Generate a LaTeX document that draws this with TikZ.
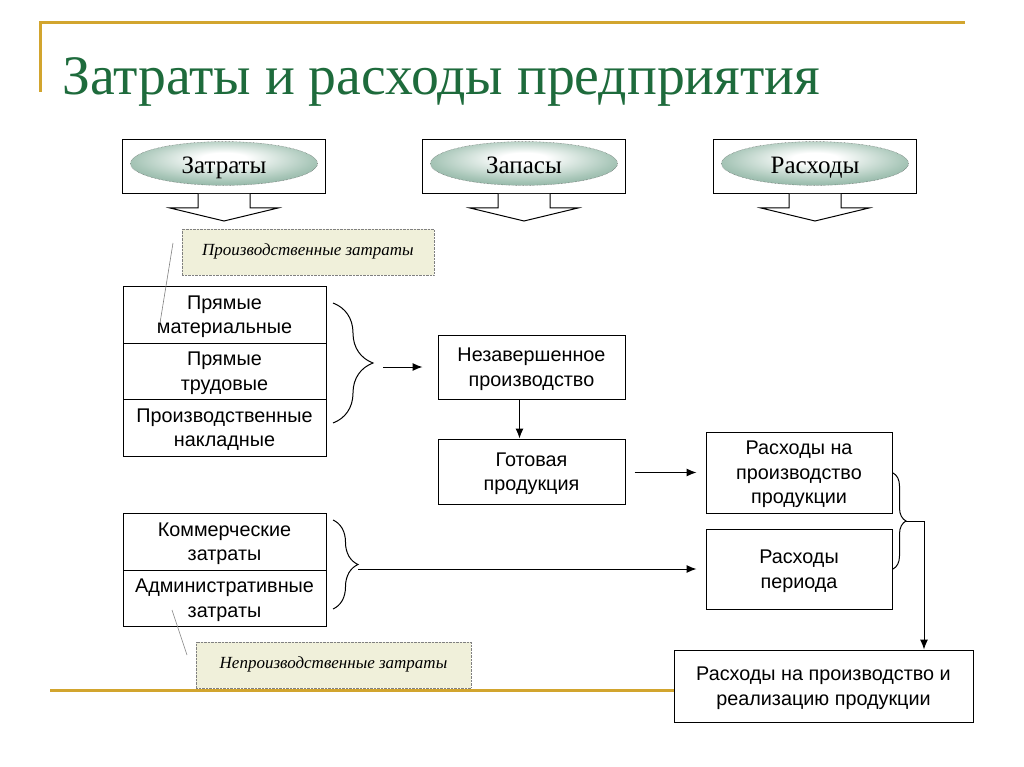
\documentclass[tikz,border=0pt]{standalone}
\usepackage{fontspec}
\setmainfont{Liberation Serif}
\setsansfont{Liberation Sans}
\usetikzlibrary{arrows.meta,decorations.pathreplacing,shapes.geometric}
\definecolor{Gold}{HTML}{D2A52E}
\definecolor{DarkGreen}{HTML}{1E6B3C}
\definecolor{SeaGreen}{HTML}{3B6E5D}
\definecolor{MidGreen}{HTML}{6A9785}
\definecolor{PaleGreen}{HTML}{A8C6B8}
\definecolor{NoteFill}{HTML}{F0F0DA}
\pgfdeclareradialshading{ovalshade}{\pgfpoint{0bp}{7bp}}{%
    color(0bp)=(white); color(6bp)=(white); color(24bp)=(PaleGreen);
    color(40bp)=(MidGreen); color(50bp)=(SeaGreen); color(60bp)=(SeaGreen)}

\begin{document}
\begin{tikzpicture}[x=1pt,y=-1pt,
    box/.style={draw,line width=1pt,fill=white,inner sep=0pt,align=center,
        font=\sffamily\fontsize{19.8}{24.5}\selectfont,text depth=-3.5pt},
    head/.style={draw,line width=1pt,fill=white,minimum width=203,minimum height=54,inner sep=0pt},
    oval/.style={ellipse,draw=black!70,densely dotted,shading=ovalshade,
        minimum width=187,minimum height=43,inner sep=0pt,text height=26,text depth=5},
    note/.style={draw=gray,densely dotted,fill=NoteFill,minimum height=46,inner sep=0pt,
        font=\itshape\fontsize{17}{20}\selectfont},
    arr/.style={-{Latex[length=10pt,width=8pt]},line width=1pt},
    lead/.style={gray,line width=0.6pt}]
    \useasboundingbox (0,0) rectangle (1024,767);
    % gold frame lines
    \draw[Gold,line width=3pt] (40,92) -- (40,23) -- (965,23);
    \draw[Gold,line width=3pt] (50,690) -- (973,690);
    \node[anchor=base west,text=DarkGreen,inner sep=0pt,font=\fontsize{55.7}{60}\selectfont]
        (title) at (62,95) {Затраты и расходы предприятия};
    % headers with block arrows
    \foreach \cx/\name/\txt in {224/zat/Затраты,524/zap/Запасы,815/ras/Расходы}{%
        \node[head] (\name) at (\cx,167) {};
        \node[oval,font=\fontsize{25}{28}\selectfont] (\name o) at (\cx,163.5) {\txt};
        \draw[line width=1pt,fill=white] (\cx-26,194) -- (\cx-26,208) -- (\cx-54,208)
            -- (\cx,221) -- (\cx+54,208) -- (\cx+26,208) -- (\cx+26,194);
    }
    % notes
    \node[note,minimum width=252] (pz) at (308,252) {\raisebox{4pt}{Производственные затраты}};
    \node[note,minimum width=275] (npz) at (333.5,665) {\raisebox{4pt}{Непроизводственные затраты}};
    % production costs
    \node[box,minimum width=203,minimum height=57] (pm) at (224.5,314.5) {Прямые\\материальные};
    \node[box,minimum width=203,minimum height=56] (pt) at (224.5,371) {Прямые\\трудовые};
    \node[box,minimum width=203,minimum height=57] (pn) at (224.5,427.5) {Производственные\\накладные};
    \node[box,minimum width=203,minimum height=57] (kz) at (224.5,541.5) {Коммерческие\\затраты};
    \node[box,minimum width=203,minimum height=56] (az) at (224.5,598) {Административные\\затраты};
    \node[box,minimum width=187,minimum height=64] (nzp) at (531.5,367) {Незавершенное\\производство};
    \node[box,minimum width=187,minimum height=65] (gp) at (531.5,471.5) {Готовая\\продукция};
    \node[box,minimum width=186,minimum height=81] (rpp) at (799,472.5) {Расходы на\\производство\\продукции};
    \node[box,minimum width=186,minimum height=80] (rp) at (799,569) {Расходы\\периода};
    \node[box,minimum width=299,minimum height=72] (rr) at (823.5,686) {Расходы на производство и\\реализацию продукции};
    % leaders
    \coordinate (l1) at (173,243);
    \coordinate (l2) at (160,323);
    \coordinate (l3) at (172,610);
    \coordinate (l4) at (187,655);
    \draw[lead] (l1) -- (l2);
    \draw[lead] (l3) -- (l4);
    % braces and arrows
    \draw[line width=1pt,decorate,decoration={brace,amplitude=40}] (333,303) -- (333,423);
    \coordinate (brA) at (383,367);
    \draw[arr,shorten >=15pt] (brA) -- (brA -| nzp.west);
    \draw[arr] ([xshift=-12pt]nzp.south) -- ([xshift=-12pt]gp.north);
    \draw[arr,shorten <=9pt,shorten >=9pt] (gp.east |- rpp.west) -- (rpp.west);
    \draw[line width=1pt,decorate,decoration={brace,amplitude=25}] (333,520) -- (333,609);
    \coordinate (brC) at (358,569);
    \draw[arr,shorten >=9pt] (brC) -- (brC -| rp.west);
    \draw[line width=1pt,decorate,decoration={brace,amplitude=13}] (893,473) -- (893,569);
    \coordinate (brB) at (906,521);
    \draw[arr] (brB) -| ([xshift=100.5pt]rr.north);
\end{tikzpicture}
\end{document}
